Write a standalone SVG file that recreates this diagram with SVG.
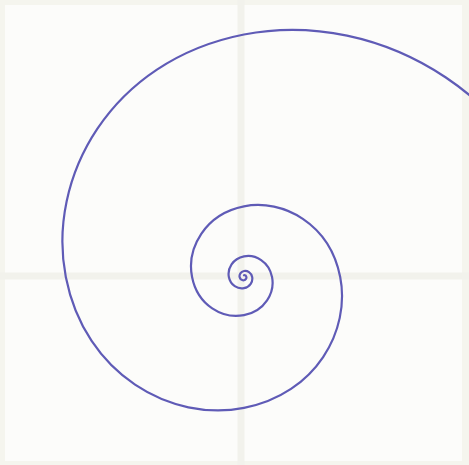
<svg xmlns="http://www.w3.org/2000/svg" width="469" height="465" viewBox="0 0 469 465">
<style>
.grid{stroke:#f2f2ec;stroke-width:7;fill:none}
.spiral{stroke:#5f5bb6;stroke-width:2.2;fill:none;stroke-linecap:round;stroke-linejoin:round}
</style>
<g id="background">
<rect x="0" y="0" width="469" height="465" fill="#f5f5ee"/>
<rect x="5" y="5" width="457" height="456" fill="#fcfcfa"/>
<line class="grid" x1="241" y1="0" x2="241" y2="465"/>
<line class="grid" x1="0" y1="276" x2="469" y2="276"/>
</g>
<g id="spiral">
<path class="spiral" d="M244,275.25 C244.97,275.06 246.12,275.69 246.38,277 C246.64,278.31 245.79,279.89 244,280.24 C242.21,280.59 240.07,279.44 239.59,277 C239.11,274.56 240.68,271.64 244,270.99 C247.32,270.34 251.28,272.49 252.17,277 C253.06,281.51 250.14,286.91 244,288.12 C237.86,289.33 230.5,285.36 228.86,277 C227.22,268.64 232.62,258.63 244,256.4 C255.38,254.17 269,261.51 272.04,277 C275.08,292.49 265.08,311.02 244,315.16 C222.92,319.3 197.69,305.69 192.06,277 C186.43,248.31 204.96,213.98 244,206.32 C283.04,198.66 329.78,223.87 340.2,277 C350.62,330.13 316.31,393.74 244,407.93 C171.69,422.12 85.11,375.42 65.8,277 C46.49,178.58 110.05,60.75 244,34.47 C377.95,8.19 538.32,94.69 574.09,277"/>
</g>
</svg>
